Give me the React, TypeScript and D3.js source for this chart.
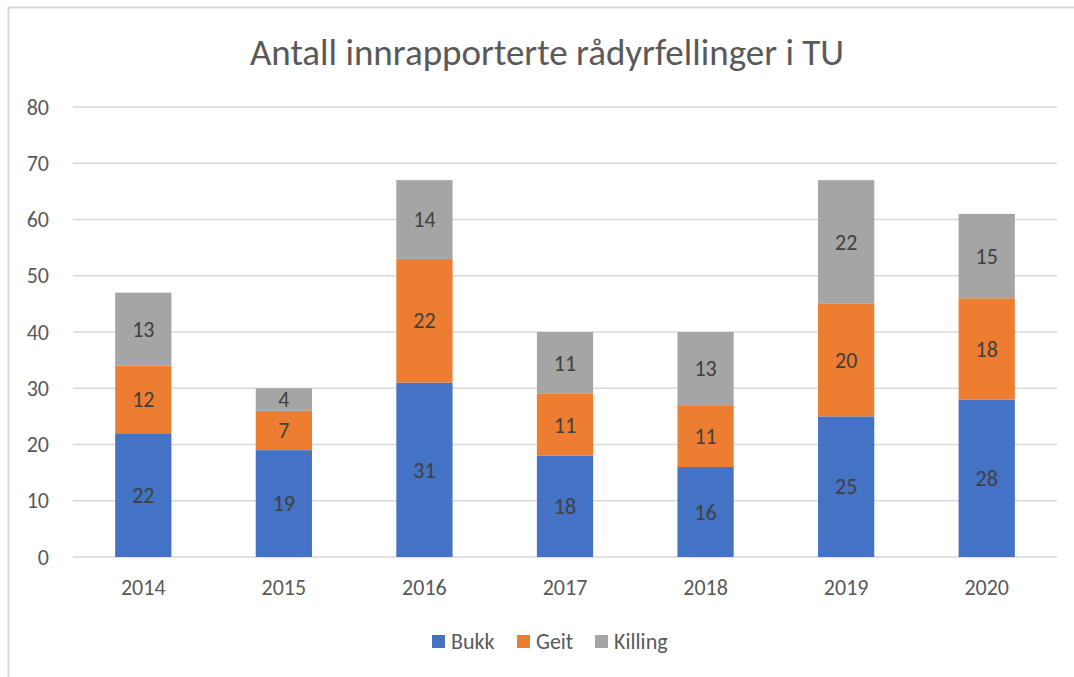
import React, { useEffect, useRef } from "react";
import * as d3 from "d3";

const years = ["2014", "2015", "2016", "2017", "2018", "2019", "2020"];
const bukk = [22, 19, 31, 18, 16, 25, 28];
const geit = [12, 7, 22, 11, 11, 20, 18];
const killing = [13, 4, 14, 11, 13, 22, 15];
const seriesNames = ["Bukk", "Geit", "Killing"];
const colors = ["#4472C4", "#ED7D31", "#A5A5A5"];
const yTicks = [0, 10, 20, 30, 40, 50, 60, 70, 80];

const FONT = "Calibri, Carlito, 'Open Sans', sans-serif";

function App() {
  const ref = useRef<SVGSVGElement | null>(null);

  useEffect(() => {
    const width = 1074;
    const svg = d3.select(ref.current);
    svg.selectAll("*").remove();

    // chart frame (only top and left edges visible)
    svg.append("rect")
      .attr("x", 8.5).attr("y", 7.5)
      .attr("width", 1200).attr("height", 800)
      .attr("fill", "white")
      .attr("stroke", "#d9d9d9")
      .attr("stroke-width", 2);

    svg.append("text")
      .attr("x", 547).attr("y", 65)
      .attr("text-anchor", "middle")
      .attr("font-family", FONT)
      .attr("font-size", 37)
      .attr("fill", "#595959")
      .text("Antall innrapporterte rådyrfellinger i TU");

    const margin = { left: 73, right: 17 };
    const x = d3.scaleBand()
      .domain(years)
      .range([margin.left, width - margin.right])
      .paddingInner(0.6)
      .paddingOuter(0.3);
    const y = d3.scaleLinear().domain([0, 80]).range([557, 107]);

    const grid = svg.append("g");
    grid.selectAll("line")
      .data(yTicks)
      .join("line")
      .attr("x1", margin.left).attr("x2", width - margin.right)
      .attr("y1", d => y(d)).attr("y2", d => y(d))
      .attr("stroke", "#d9d9d9")
      .attr("stroke-width", 1.5);

    grid.selectAll("text")
      .data(yTicks)
      .join("text")
      .attr("x", 49).attr("y", d => y(d))
      .attr("dy", "0.35em")
      .attr("text-anchor", "end")
      .attr("font-family", FONT)
      .attr("font-size", 22)
      .attr("fill", "#595959")
      .text(d => d);

    const table = years.map((yr, i) => ({ year: yr, Bukk: bukk[i], Geit: geit[i], Killing: killing[i] }));
    const stacked = d3.stack<any>().keys(seriesNames)(table);

    const layers = svg.append("g")
      .selectAll("g")
      .data(stacked)
      .join("g")
      .attr("fill", (_, i) => colors[i]);

    layers.selectAll("rect")
      .data(d => d)
      .join("rect")
      .attr("x", d => x(d.data.year)!)
      .attr("width", x.bandwidth())
      .attr("y", d => y(d[1]))
      .attr("height", d => y(d[0]) - y(d[1]));

    layers.selectAll("text")
      .data(d => d)
      .join("text")
      .attr("x", d => x(d.data.year)! + x.bandwidth() / 2)
      .attr("y", d => (y(d[0]) + y(d[1])) / 2)
      .attr("dy", "0.35em")
      .attr("text-anchor", "middle")
      .attr("font-family", FONT)
      .attr("font-size", 22)
      .attr("fill", "#404040")
      .text(d => d[1] - d[0]);

    svg.append("g")
      .selectAll("text")
      .data(years)
      .join("text")
      .attr("x", d => x(d)! + x.bandwidth() / 2)
      .attr("y", 595)
      .attr("text-anchor", "middle")
      .attr("font-family", FONT)
      .attr("font-size", 22)
      .attr("fill", "#595959")
      .text(d => d);

    // legend
    const legendX = [432, 517, 595];
    const legend = svg.append("g")
      .selectAll("g")
      .data(seriesNames)
      .join("g")
      .attr("transform", (_, i) => `translate(${legendX[i]},635)`);
    legend.append("rect")
      .attr("width", 13).attr("height", 13)
      .attr("fill", (_, i) => colors[i]);
    legend.append("text")
      .attr("x", 19).attr("y", 6.5)
      .attr("dy", "0.35em")
      .attr("font-family", FONT)
      .attr("font-size", 22)
      .attr("fill", "#595959")
      .text(d => d);
  }, []);

  return (
    <svg
      ref={ref}
      width={1074}
      height={677}
      style={{ position: "absolute", left: 0, top: 0, background: "white" }}
    />
  );
}

export default App;
